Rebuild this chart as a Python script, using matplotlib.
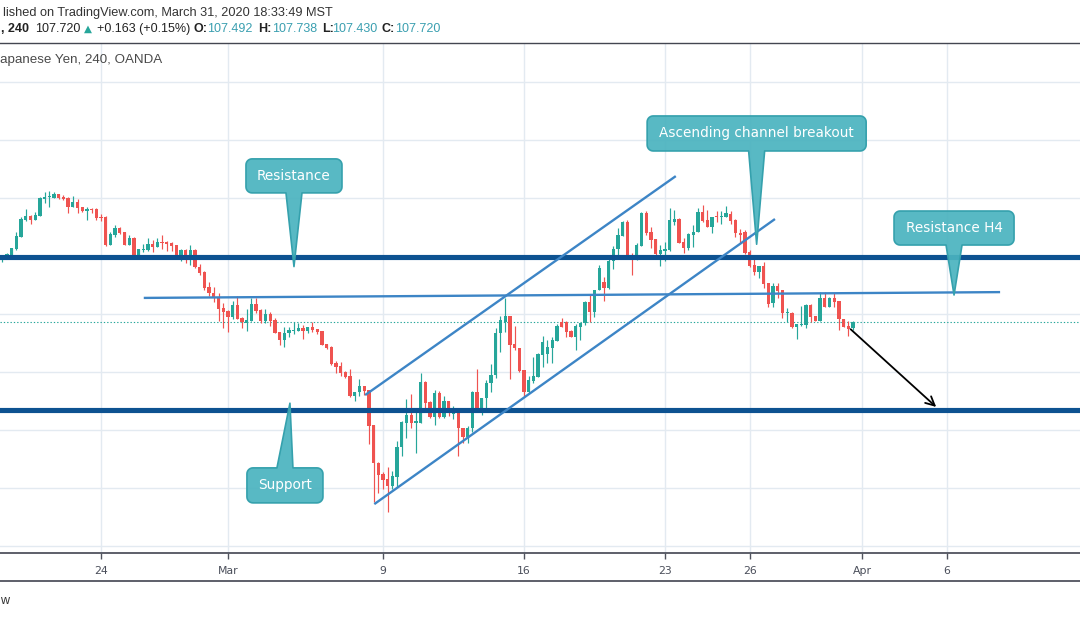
import matplotlib
matplotlib.use("Agg")
import matplotlib.pyplot as plt
import numpy as np
from matplotlib.patches import Polygon

# ---------------- data (USD/JPY, 240 min candles, OANDA) ----------------
opens = [
    109.85, 109.95, 110.02, 110.23, 110.65, 111.23, 111.36, 111.23, 111.37, 111.95,
    112.01, 111.99, 112.12, 112.02, 111.99, 111.69, 111.85, 111.67, 111.55, 111.61,
    111.61, 111.31, 111.33, 110.37, 110.71, 110.95, 110.81, 110.37, 110.61, 110.02,
    110.19, 110.19, 110.40, 110.30, 110.47, 110.48, 110.44, 110.36, 109.94, 110.19,
    109.87, 110.19, 109.62, 109.44, 108.90, 108.72, 108.53, 108.18, 108.09, 107.89,
    108.30, 107.86, 107.69, 107.74, 108.33, 108.12, 107.74, 107.99, 107.78, 107.35,
    107.09, 107.32, 107.41, 107.41, 107.51, 107.41, 107.54, 107.47, 107.39, 106.94,
    106.86, 106.31, 106.20, 105.98, 105.85, 105.16, 105.29, 105.50, 105.36, 104.15,
    102.86, 102.47, 102.28, 102.06, 102.37, 103.39, 104.24, 104.50, 104.24, 104.24,
    105.65, 104.96, 104.44, 105.25, 104.44, 104.99, 104.52, 104.64, 104.06, 103.75,
    104.05, 105.31, 104.62, 105.08, 105.60, 105.88, 107.32, 107.72, 107.92, 106.94,
    106.81, 106.05, 105.31, 105.69, 105.82, 106.57, 106.61, 106.81, 107.07, 107.72,
    107.72, 107.41, 107.20, 107.55, 107.67, 108.41, 108.07, 108.81, 109.09, 108.87,
    109.82, 110.21, 110.69, 111.15, 109.96, 109.88, 110.34, 111.48, 110.80, 110.57,
    110.05, 110.16, 110.19, 111.17, 111.26, 110.48, 110.25, 110.71, 110.80, 111.49,
    111.23, 110.99, 111.34, 111.32, 111.34, 111.42, 111.23, 110.79, 110.80, 110.13,
    109.67, 109.44, 109.64, 109.06, 108.35, 108.95, 108.81, 108.01, 108.03, 107.53,
    107.61, 107.61, 108.30, 107.93, 107.75, 108.55, 108.24, 108.55, 108.44, 107.81,
    107.58, 107.492]

highs = [
    110.02, 110.10, 110.26, 110.81, 111.33, 111.61, 111.40, 111.50, 112.01, 112.19,
    112.23, 112.19, 112.14, 112.09, 112.02, 112.05, 111.95, 111.69, 111.69, 111.64,
    111.64, 111.43, 111.35, 110.82, 111.05, 110.99, 110.83, 110.71, 110.64, 110.24,
    110.40, 110.61, 110.54, 110.61, 110.71, 110.50, 110.48, 110.38, 110.23, 110.23,
    110.36, 110.23, 109.71, 109.47, 109.08, 108.91, 108.70, 108.35, 108.11, 108.43,
    108.61, 107.89, 108.16, 108.53, 108.55, 108.16, 108.15, 108.06, 107.86, 107.36,
    107.53, 107.53, 107.72, 107.66, 107.61, 107.55, 107.72, 107.48, 107.40, 106.95,
    106.87, 106.38, 106.34, 106.03, 106.08, 105.30, 105.73, 105.51, 105.37, 104.17,
    102.89, 102.55, 102.70, 102.58, 103.61, 104.31, 105.04, 105.22, 104.70, 105.94,
    105.68, 104.97, 105.36, 105.34, 105.16, 104.99, 104.81, 104.64, 104.07, 104.12,
    105.32, 106.10, 105.10, 105.71, 106.25, 107.51, 107.92, 108.53, 107.92, 107.57,
    106.82, 106.06, 105.86, 106.49, 106.65, 107.23, 107.09, 107.20, 107.64, 107.86,
    107.73, 107.43, 107.64, 107.69, 108.42, 108.67, 108.82, 109.67, 109.27, 110.02,
    110.33, 110.94, 111.20, 111.23, 110.08, 110.42, 111.51, 111.55, 110.99, 110.58,
    110.36, 110.48, 111.63, 111.57, 111.28, 110.59, 110.79, 111.05, 111.65, 111.74,
    111.57, 111.34, 111.54, 111.52, 111.72, 111.54, 111.26, 110.91, 110.88, 110.19,
    110.02, 109.65, 109.79, 109.07, 109.05, 109.06, 108.82, 108.20, 108.04, 107.65,
    108.26, 108.32, 108.32, 107.93, 108.73, 108.73, 108.58, 108.72, 108.45, 107.82,
    107.75, 107.738]

lows = [
    109.78, 109.93, 110.00, 110.19, 110.64, 111.19, 111.09, 111.21, 111.36, 111.81,
    111.69, 111.99, 111.95, 111.92, 111.48, 111.67, 111.48, 111.51, 111.23, 111.47,
    111.23, 111.20, 110.34, 110.35, 110.64, 110.74, 110.36, 110.36, 109.99, 109.89,
    110.13, 110.17, 110.13, 110.30, 110.23, 110.17, 110.17, 109.93, 109.82, 109.73,
    109.67, 109.56, 109.33, 108.81, 108.62, 108.41, 107.75, 107.51, 107.38, 107.80,
    107.80, 107.51, 107.40, 107.73, 108.01, 107.66, 107.69, 107.57, 107.32, 106.92,
    106.86, 107.18, 107.30, 107.40, 107.12, 107.32, 107.38, 107.29, 106.90, 106.78,
    106.23, 105.96, 105.85, 105.79, 105.14, 105.00, 105.16, 105.19, 103.50, 101.51,
    101.80, 101.94, 101.17, 101.94, 102.03, 103.09, 103.72, 104.04, 103.20, 104.22,
    104.72, 104.39, 104.15, 104.39, 104.41, 104.48, 104.35, 103.09, 103.52, 103.52,
    103.91, 104.61, 104.50, 104.70, 105.30, 105.77, 106.68, 107.38, 105.73, 106.74,
    105.99, 105.14, 105.27, 105.62, 105.81, 106.17, 106.29, 106.30, 107.05, 107.54,
    107.20, 107.18, 106.74, 107.09, 107.61, 107.72, 107.87, 108.80, 108.43, 108.86,
    109.54, 110.02, 110.67, 109.90, 109.33, 109.85, 110.32, 110.71, 110.25, 110.02,
    109.64, 109.82, 110.17, 111.05, 110.42, 110.08, 110.19, 110.29, 110.80, 111.17,
    110.97, 110.77, 111.15, 111.08, 111.33, 111.08, 110.65, 110.44, 110.05, 109.60,
    109.33, 109.21, 108.87, 108.24, 108.24, 108.53, 107.86, 107.72, 107.49, 107.12,
    107.57, 107.49, 107.72, 107.74, 107.74, 108.22, 108.22, 108.24, 107.43, 107.54,
    107.24, 107.430]

closes = [
    109.99, 110.05, 110.26, 110.67, 111.26, 111.36, 111.23, 111.40, 111.99, 112.02,
    112.02, 112.12, 111.99, 111.95, 111.69, 111.85, 111.64, 111.55, 111.61, 111.58,
    111.31, 111.29, 110.37, 110.74, 110.95, 110.78, 110.37, 110.61, 110.02, 110.23,
    110.23, 110.40, 110.30, 110.47, 110.44, 110.41, 110.33, 109.96, 110.19, 109.87,
    110.19, 109.59, 109.41, 108.89, 108.70, 108.53, 108.16, 108.06, 107.89, 108.30,
    107.81, 107.70, 107.78, 108.33, 108.10, 107.74, 107.99, 107.74, 107.34, 107.09,
    107.32, 107.43, 107.43, 107.51, 107.41, 107.55, 107.43, 107.38, 106.92, 106.83,
    106.26, 106.17, 105.96, 105.83, 105.16, 105.29, 105.50, 105.33, 104.13, 102.84,
    102.43, 102.26, 102.06, 102.40, 103.41, 104.27, 104.50, 104.24, 104.30, 105.65,
    104.93, 104.44, 105.25, 104.44, 104.99, 104.56, 104.67, 104.05, 103.73, 104.06,
    105.31, 104.62, 105.10, 105.62, 105.88, 107.34, 107.78, 107.92, 106.92, 106.81,
    106.02, 105.31, 105.71, 105.85, 106.61, 107.02, 106.86, 107.09, 107.57, 107.55,
    107.38, 107.20, 107.57, 107.69, 108.41, 108.07, 108.81, 109.56, 108.89, 109.82,
    110.23, 110.71, 111.15, 109.93, 109.91, 110.36, 111.48, 110.77, 110.54, 110.05,
    110.19, 110.23, 111.23, 111.26, 110.44, 110.25, 110.74, 110.82, 111.49, 111.19,
    110.99, 111.34, 111.32, 111.36, 111.46, 111.20, 110.77, 110.71, 110.08, 109.64,
    109.44, 109.64, 109.02, 108.33, 108.95, 108.78, 108.01, 108.03, 107.53, 107.64,
    107.63, 108.30, 107.89, 107.75, 108.53, 108.24, 108.55, 108.41, 107.80, 107.55,
    107.47, 107.720]

# time axis: candle index at which each date label sits
tick_labels = ["24", "Mar", "9", "16", "23", "26", "Apr", "6"]
tick_index = [21, 48, 81, 111, 141, 159, 183, 201]

# horizontal levels drawn on the chart
resistance_level = 109.95
support_level = 104.68
last_price = 107.720

# trend lines (candle index, price)
h4_line = ([30.1, 212.3], [108.54, 108.74])
channel_upper = ([77.2, 143.3], [105.19, 112.74])
channel_lower = ([79.15, 164.4], [101.43, 111.26])
forecast_arrow = ([180.5, 198.7], [107.46, 104.78])

# ---------------- figure ----------------
W, H = 1080, 618
fig = plt.figure(figsize=(W / 100, H / 100), dpi=100)
fig.patch.set_facecolor("white")

AX_TOP, AX_BOT = 43, 553
ax = fig.add_axes([0, 1 - AX_BOT / H, 1, (AX_BOT - AX_TOP) / H])
ax.set_facecolor("white")
ax.set_xlim(-0.49, 229.3)
ax.set_ylim(99.744, 117.33)

GRID = "#e3eaf1"
for p in np.arange(100, 118, 2):
    ax.axhline(p, color=GRID, lw=1.0, zorder=0)
for t in tick_index:
    ax.axvline(t, color=GRID, lw=1.0, zorder=0)

for s in ["top", "left", "right"]:
    ax.spines[s].set_visible(False)
ax.spines["bottom"].set_color("#50535e")
ax.spines["bottom"].set_linewidth(1.3)
ax.set_yticks([])
ax.set_xticks(tick_index)
ax.set_xticklabels(tick_labels, fontfamily="DejaVu Sans", fontsize=7.8, color="#4a4e5a")
ax.tick_params(axis="x", length=4, width=1, color="#50535e", pad=5)

# current price dotted line
ax.axhline(last_price, color="#26a69a", lw=0.8, ls=(0, (1.2, 1.8)), zorder=2)

# candles
O = np.array(opens); Hh = np.array(highs); Ll = np.array(lows); C = np.array(closes)
Hh = np.maximum(Hh, np.maximum(O, C))
Ll = np.minimum(Ll, np.minimum(O, C))
idx = np.arange(len(C))
UP, DN = "#26a69a", "#ef5350"
cols = np.where(C >= O, UP, DN)
ax.vlines(idx, Ll, Hh, colors=cols, lw=0.85, zorder=3)
bottom = np.minimum(O, C)
height = np.maximum(np.abs(C - O), 0.035)
ax.bar(idx, height, bottom=bottom, width=0.72, color=cols, linewidth=0, zorder=4)

# drawings
DARK = "#0d5291"
LIGHT = "#3d85c6"
ax.axhline(resistance_level, color=DARK, lw=3.7, zorder=5)
ax.axhline(support_level, color=DARK, lw=3.7, zorder=5)
ax.plot(*h4_line, color=LIGHT, lw=1.7, zorder=5, solid_capstyle="butt")
ax.plot(*channel_upper, color=LIGHT, lw=1.7, zorder=5, solid_capstyle="butt")
ax.plot(*channel_lower, color=LIGHT, lw=1.7, zorder=5, solid_capstyle="butt")
ax.annotate("", xy=(forecast_arrow[0][1], forecast_arrow[1][1]),
            xytext=(forecast_arrow[0][0], forecast_arrow[1][0]),
            arrowprops=dict(arrowstyle="->", color="black", lw=1.3, mutation_scale=16,
                            shrinkA=0, shrinkB=0), zorder=6)

# overlay axes in pixel coordinates (y down)
ov = fig.add_axes([0, 0, 1, 1], zorder=10)
ov.set_xlim(0, W)
ov.set_ylim(H, 0)
ov.axis("off")
ov.patch.set_alpha(0)


def to_px(i, p):
    disp = ax.transData.transform((i, p))
    return ov.transData.inverted().transform(disp)


def callout(text, tip_i, tip_p, dx, dy, bw, bh, base_w=16, r=6, fs=9.8):
    tx, ty = to_px(tip_i, tip_p)
    cx, cy = tx + dx, ty + dy
    x0, x1 = cx - bw / 2, cx + bw / 2
    y0, y1 = cy - bh / 2, cy + bh / 2
    bl, br = cx - base_w / 2, cx + base_w / 2

    def arc(ccx, ccy, a0, a1):
        a = np.radians(np.linspace(a0, a1, 8))
        return list(zip(ccx + r * np.cos(a), ccy + r * np.sin(a)))

    pts = []
    if ty < y0:  # pointer up
        pts += [(x0 + r, y0), (bl, y0), (tx, ty), (br, y0)]
    pts += [(x1 - r, y0)]
    pts += arc(x1 - r, y0 + r, -90, 0)
    pts += [(x1, y1 - r)]
    pts += arc(x1 - r, y1 - r, 0, 90)
    if ty > y1:  # pointer down
        pts += [(br, y1), (tx, ty), (bl, y1)]
    pts += [(x0 + r, y1)]
    pts += arc(x0 + r, y1 - r, 90, 180)
    pts += [(x0, y0 + r)]
    pts += arc(x0 + r, y0 + r, 180, 270)
    poly = Polygon(pts, closed=True, facecolor=(0.29, 0.70, 0.75, 0.92),
                   edgecolor="#35a1ad", lw=1.2, joinstyle="round", zorder=11)
    ov.add_patch(poly)
    ov.text(cx, cy, text, ha="center", va="center", color="white", fontsize=fs,
            fontfamily="DejaVu Sans", zorder=12)


callout("Resistance", 62.06, 109.62, 0, -90.7, 96, 34)
callout("Support", 61.2, 104.91, -5, 82.2, 76, 35)
callout("Ascending channel breakout", 160.5, 110.39, 0, -110.8, 219, 35)
callout("Resistance H4", 202.5, 108.64, 0, -67, 120, 34)

# header / frame texts
HF = "Liberation Sans"
ov.text(3, 13, "lished on TradingView.com, March 31, 2020 18:33:49 MST", ha="left", va="center",
        fontsize=9.2, color="#333333", fontfamily=HF)
TEAL = "#3a9fb0"
pieces = [
    (1, ", 240", "#222222", "bold"),
    (35, "107.720", "#222222", "normal"),
    (84, "\u25B2", "#26a69a", "normal"),
    (97, "+0.163 (+0.15%)", "#222222", "normal"),
    (194, "O:", "#222222", "bold"),
    (207, "107.492", TEAL, "normal"),
    (258, "H:", "#222222", "bold"),
    (272, "107.738", TEAL, "normal"),
    (322, "L:", "#222222", "bold"),
    (332, "107.430", TEAL, "normal"),
    (381, "C:", "#222222", "bold"),
    (395, "107.720", TEAL, "normal"),
]
for x, s, c, wgt in pieces:
    fam = ["DejaVu Sans"] if s == "\u25B2" else [HF, "DejaVu Sans"]
    ov.text(x, 29, s, ha="left", va="center", fontsize=9.0 if s != "\u25B2" else 7.5,
            color=c, fontweight=wgt, fontfamily=fam)
ov.text(0, 60, "apanese Yen, 240, OANDA", ha="left", va="center", fontsize=9.6,
        color="#4a4a4a", fontfamily=HF)
ov.plot([0, W], [43, 43], color="#434651", lw=1.0)
ov.plot([0, W], [581, 581], color="#50535e", lw=1.3)
ov.text(0, 601, "w", ha="left", va="center", fontsize=9, color="#333333", fontfamily=HF)

fig.savefig("out.png", dpi=100, facecolor="white")
